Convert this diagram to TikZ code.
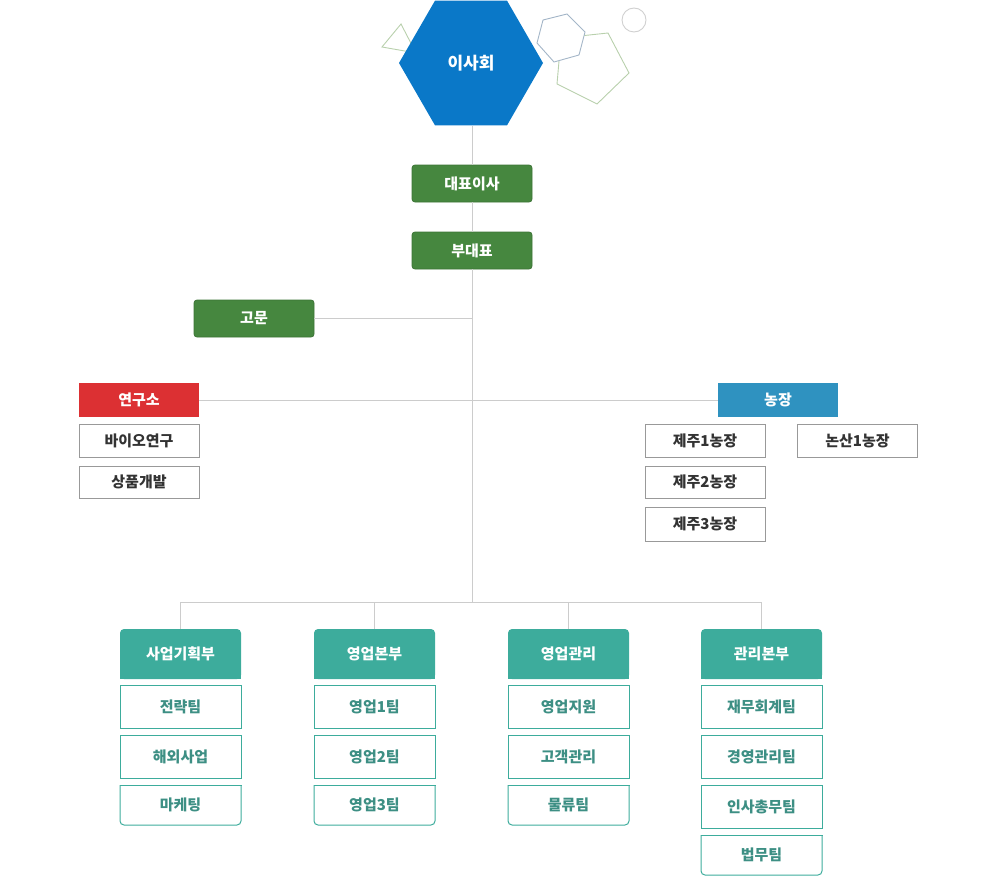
\documentclass[tikz,border=0pt]{standalone}
\usepackage{fontspec}
\newfontfamily\kr{Noto Sans CJK KR}
\usetikzlibrary{shapes.geometric,backgrounds}
\definecolor{hexblue}{HTML}{0A78C8}
\definecolor{execg}{HTML}{46873F}
\definecolor{execgd}{HTML}{3C7436}
\definecolor{labred}{HTML}{DC3033}
\definecolor{farmblue}{HTML}{2F92C0}
\definecolor{teal}{HTML}{3DAC9C}
\definecolor{tealtext}{HTML}{3D8F84}
\definecolor{conn}{HTML}{CCCCCC}
\definecolor{boxgray}{HTML}{999999}
\definecolor{txtgray}{HTML}{333333}
\definecolor{decogreen}{HTML}{B8D0AC}
\definecolor{decoblue}{HTML}{A4B6C8}
\definecolor{decocircle}{HTML}{D0D0D0}
\tikzset{
  base/.style={rectangle, inner sep=0pt, outer sep=0pt, minimum width=120pt, font=\kr\bfseries\fontsize{15pt}{17pt}\selectfont},
  exec/.style={base, fill=execg, draw=execgd, line width=0.8pt, rounded corners=3pt, minimum height=37pt, text=white},
  lab/.style={base, fill=labred, minimum height=34pt, text=white},
  farm/.style={base, fill=farmblue, minimum height=34pt, text=white},
  unit/.style={base, fill=white, draw=boxgray, line width=1pt, text=txtgray},
  dept/.style={base, minimum width=121pt, minimum height=50pt, text=white},
  team/.style={base, minimum width=121pt, minimum height=43pt, fill=white, draw=teal, line width=1pt, text=tealtext},
  lastteam/.style={base, minimum width=121pt, minimum height=40pt, text=tealtext},
  connector/.style={draw=conn, line width=1pt},
  deco/.style={line width=0.9pt}
}
\begin{document}
\begin{tikzpicture}[x=1pt,y=-1pt]
\useasboundingbox (0,0) rectangle (1000,880);
% decorations
\draw[deco, draw=decogreen] (401,24) -- (382,47) -- (416,53) -- cycle;
\draw[deco, draw=decogreen] (608,33) -- (629,73) -- (597,104) -- (557,84) -- (561,38) -- cycle;
\filldraw[deco, draw=decoblue, fill=white] (543,20) -- (567,14) -- (585,32) -- (579,55) -- (554,62) -- (537,43) -- cycle;
\draw[deco, draw=decocircle] (634,20) circle[radius=12];
% board
\node[regular polygon, regular polygon sides=6, minimum size=144pt, inner sep=0pt, fill=hexblue, text=white, font=\kr\bfseries\fontsize{17pt}{19pt}\selectfont] (board) at (471,63) {이사회};
% executives
\node[exec] (ceo) at (472,183.5) {대표이사};
\node[exec] (vice) at (472,250.5) {부대표};
\node[exec] (adv) at (254,318.5) {고문};
\coordinate (hub) at (472,602);
% connectors (top)
\draw[connector] (ceo.north |- board.south) -- (ceo.north);
\draw[connector] (ceo.south) -- (vice.north);
\draw[connector] (vice.south) -- (hub);
\draw[connector] (adv.east) -- (adv.east -| vice.south);
% lab and farm
\node[lab] (lab) at (139,400) {연구소};
\node[farm] (farm) at (778,400) {농장};
\draw[connector] (lab.east) -- (farm.west);
\node[unit, minimum height=33pt] (bio) at (139,440.5) {바이오연구};
\node[unit, minimum height=32pt] (prod) at (139,482) {상품개발};
\node[unit, minimum height=33pt] (jeju1) at (705,440.5) {제주1농장};
\node[unit, minimum height=33pt] (nonsan) at (857.5,440.5) {논산1농장};
\node[unit, minimum height=32pt] (jeju2) at (705,482) {제주2농장};
\node[unit, minimum height=34pt] (jeju3) at (705,524) {제주3농장};
% departments
\node[dept] (d1) at (180.5,654) {사업기획부};
\node[dept] (d2) at (374.5,654) {영업본부};
\node[dept] (d3) at (568.5,654) {영업관리};
\node[dept] (d4) at (761.5,654) {관리본부};
\begin{pgfonlayer}{background}
\foreach \d in {d1,d2,d3,d4}{
  \fill[teal, rounded corners=4pt] (\d.north west) rectangle (\d.south east);
  \fill[teal] (\d.west) rectangle (\d.south east);
}
\end{pgfonlayer}
\draw[connector] (d1.north) |- (d4.north |- hub) -- (d4.north);
\draw[connector] (d2.north) -- (d2.north |- hub);
\draw[connector] (d3.north) -- (d3.north |- hub);
% teams
\node[team] (t11) at (180.5,706.5) {전략팀};
\node[team] (t12) at (180.5,756.5) {해외사업};
\node[lastteam] (t13) at (180.5,805) {마케팅};
\node[team] (t21) at (374.5,706.5) {영업1팀};
\node[team] (t22) at (374.5,756.5) {영업2팀};
\node[lastteam] (t23) at (374.5,805) {영업3팀};
\node[team] (t31) at (568.5,706.5) {영업지원};
\node[team] (t32) at (568.5,756.5) {고객관리};
\node[lastteam] (t33) at (568.5,805) {물류팀};
\node[team] (t41) at (761.5,706.5) {재무회계팀};
\node[team] (t42) at (761.5,756.5) {경영관리팀};
\node[team] (t43) at (761.5,806.5) {인사총무팀};
\node[lastteam] (t44) at (761.5,855) {법무팀};
\foreach \t in {t13,t23,t33,t44}{
  \draw[teal, line width=1pt, rounded corners=4pt] (\t.north west) -- (\t.south west) -- (\t.south east) -- (\t.north east);
  \draw[teal, line width=1pt, line cap=rect] (\t.north west) -- (\t.north east);
}
\end{tikzpicture}
\end{document}
